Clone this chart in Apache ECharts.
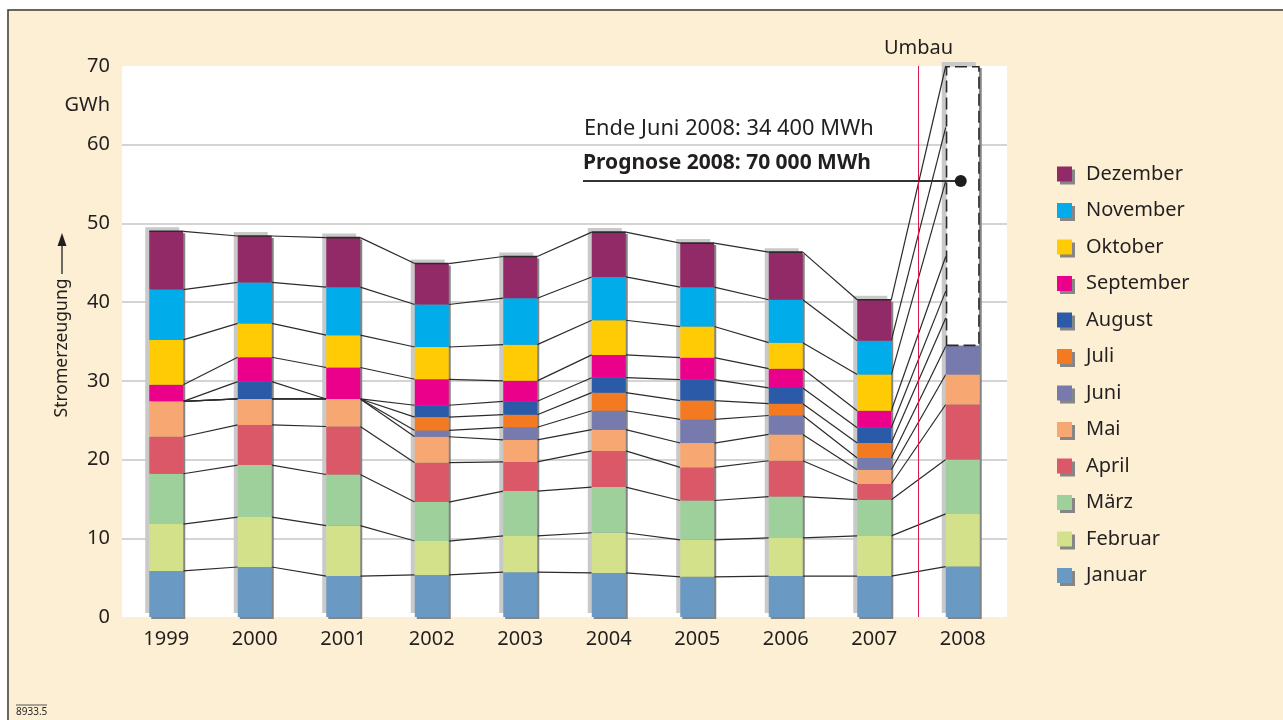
<!DOCTYPE html>
<html>
<head>
<meta charset="utf-8">
<script src="https://cdn.jsdelivr.net/npm/echarts@6/dist/echarts.min.js"></script>
<style>
  html, body { margin: 0; padding: 0; background: #fff; }
  #main { width: 1283px; height: 720px; }
</style>
</head>
<body>
<div id="main"></div>
<script>
// Stromerzeugung pro Monat in GWh, Jahre 1999-2008
const jahre = ['1999', '2000', '2001', '2002', '2003', '2004', '2005', '2006', '2007', '2008'];
const monate = ['Januar', 'Februar', 'März', 'April', 'Mai', 'Juni', 'Juli', 'August', 'September', 'Oktober', 'November', 'Dezember'];

const januar    = [5.85, 6.35, 5.2, 5.35, 5.7, 5.6, 5.1, 5.2, 5.2, 6.4];
const februar   = [5.95, 6.35, 6.4, 4.3, 4.6, 5.1, 4.7, 4.85, 5.1, 6.7];
const maerz     = [6.4, 6.6, 6.5, 4.95, 5.7, 5.8, 5.0, 5.25, 4.6, 6.9];
const april     = [4.7, 5.1, 6.1, 5.0, 3.7, 4.6, 4.2, 4.55, 2.0, 7.0];
const mai       = [4.5, 3.3, 3.5, 3.3, 2.8, 2.7, 3.1, 3.35, 1.8, 3.8];
const juni      = [0, 0, 0, 0.8, 1.6, 2.4, 3.0, 2.4, 1.5, 3.6];
const juli      = [0, 0, 0, 1.7, 1.6, 2.3, 2.4, 1.5, 1.9, 0];
const august    = [0, 2.2, 0, 1.5, 1.7, 1.9, 2.65, 2.0, 1.95, 0];
const september = [2.1, 3.1, 4.0, 3.3, 2.6, 2.9, 2.8, 2.45, 2.15, 0];
const oktober   = [5.7, 4.3, 4.1, 4.1, 4.6, 4.4, 3.95, 3.3, 4.6, 0];
const november  = [6.4, 5.2, 6.1, 5.4, 5.9, 5.5, 5.0, 5.45, 4.3, 0];
const dezember  = [7.4, 5.9, 6.3, 5.2, 5.3, 5.7, 5.6, 6.05, 5.2, 0];

// Prognose 2008 für Juli bis Dezember (Summe bis 70 GWh)
const prognose2008 = [3.6, 3.4, 4.4, 9.6, 6.8, 7.8];
const prognoseGesamt = 70;
const prognosePunkt = 55.4;

const farben = ['#6a9ac3', '#d3e18a', '#9ed09b', '#db5868', '#f7a872', '#767aad',
                '#f47a21', '#2b5aa8', '#eb008b', '#ffcb05', '#00adea', '#912a67'];

const monatsWerte = [januar, februar, maerz, april, mai, juni, juli, august, september, oktober, november, dezember];

const barW = 34;
const schrift = 'Noto Sans';
const textFarbe = '#231f20';

// kumulierte Obergrenzen je Jahr, für die Verbindungslinien
let kumuliert = jahre.map((j, i) => {
    let summe = 0;
    return monatsWerte.map((werte, m) => {
        let v = werte[i];
        if (i === jahre.length - 1 && m >= 6) {
            v = prognose2008[m - 6];
        }
        summe += v;
        return summe;
    });
});

let summen = jahre.map((j, i) => {
    let s = monatsWerte.reduce((a, werte) => a + werte[i], 0);
    return i === jahre.length - 1 ? prognoseGesamt : s;
});

let ist2008 = monatsWerte.reduce((a, werte) => a + werte[jahre.length - 1], 0);
let prognoseBalken = jahre.map((j, i) => i === jahre.length - 1 ? +(prognoseGesamt - ist2008).toFixed(2) : 0);

let chart = echarts.init(document.getElementById('main'));

let serien = [];

serien.push({
    type: 'custom',
    name: 'schatten',
    z: 1,
    clip: false,
    silent: true,
    data: summen.map((s, i) => [i, s]),
    renderItem: function (params, api) {
        let i = params.dataIndex;
        let oben = api.coord([i, summen[i]]);
        let unten = api.coord([i, 0]);
        let h = unten[1] - oben[1];
        return {
            type: 'group',
            children: [
                { type: 'rect', shape: { x: oben[0] - barW / 2 - 4, y: oben[1] - 4, width: barW, height: h }, style: { fill: '#c9c9c9' } },
                { type: 'rect', shape: { x: oben[0] - barW / 2 + 2, y: oben[1] + 2, width: barW, height: h }, style: { fill: '#858585' } }
            ]
        };
    }
});

serien.push({
    type: 'custom',
    name: 'linien',
    z: 1.5,
    clip: false,
    silent: true,
    data: jahre.slice(0, -1).map((j, i) => [i, 0]),
    renderItem: function (params, api) {
        let i = params.dataIndex;
        let kinder = kumuliert[i].map((wert, m) => {
            let a = api.coord([i, wert]);
            let b = api.coord([i + 1, kumuliert[i + 1][m]]);
            return {
                type: 'line',
                shape: { x1: a[0] + barW / 2, y1: a[1], x2: b[0] - barW / 2, y2: b[1] },
                style: { stroke: '#2b2b2b', lineWidth: 1.2 }
            };
        });
        return { type: 'group', children: kinder };
    }
});

monate.forEach((name, m) => {
    serien.push({
        type: 'bar',
        name: name,
        stack: 'summe',
        barWidth: barW,
        itemStyle: { color: farben[m] },
        emphasis: { disabled: true },
        data: monatsWerte[m]
    });
});

serien.push({
    type: 'bar',
    name: 'Prognose',
    stack: 'summe',
    barWidth: barW,
    itemStyle: { color: '#ffffff', borderColor: '#2b2b2b', borderWidth: 1.6, borderType: [12, 5] },
    data: prognoseBalken
});

let option = {
    backgroundColor: '#fdefd3',
    animation: false,
    textStyle: { fontFamily: schrift },
    grid: {
        left: 122, top: 66, width: 885, height: 551,
        show: true, backgroundColor: '#ffffff', borderWidth: 0
    },
    xAxis: {
        type: 'category',
        data: jahre,
        axisLine: { show: false },
        axisTick: { show: false },
        axisLabel: { fontSize: 20, color: textFarbe, margin: 12, fontFamily: schrift }
    },
    yAxis: {
        type: 'value',
        min: 0, max: 70, interval: 10,
        axisLine: { show: false },
        axisTick: { show: false },
        axisLabel: { fontSize: 20, color: textFarbe, margin: 12, fontFamily: schrift },
        splitLine: { showMinLine: false, showMaxLine: false, lineStyle: { color: '#c6c6c6', width: 1.5 } }
    },
    legend: {
        data: monate.slice().reverse(),
        orient: 'vertical',
        left: 1052,
        top: 159,
        itemWidth: 15,
        itemHeight: 15,
        itemGap: 16.5,
        icon: 'rect',
        selectedMode: false,
        itemStyle: { shadowColor: '#868686', shadowBlur: 0, shadowOffsetX: 3, shadowOffsetY: 3 },
        textStyle: { fontSize: 20, lineHeight: 20, color: textFarbe, fontFamily: schrift, padding: [0, 0, 0, 9] }
    },
    series: serien
};

chart.setOption(option);

// Beschriftungen und Markierungen, Positionen über die Achsen
let px = (i, v) => chart.convertToPixel({ gridIndex: 0 }, [i, v]);
let umbauX = (px(8, 0)[0] + px(9, 0)[0]) / 2;
let oben70 = px(0, 70)[1];
let nullY = px(0, 0)[1];
let punkt = px(9, prognosePunkt);
let gwhY = px(0, 65)[1];

chart.setOption({
    graphic: [
        // weißer Rand und Rahmen
        { type: 'rect', shape: { x: 0, y: 0, width: 1283, height: 9 }, style: { fill: '#fff' }, z: 100 },
        { type: 'rect', shape: { x: 0, y: 0, width: 7, height: 720 }, style: { fill: '#fff' }, z: 100 },
        { type: 'rect', shape: { x: 8, y: 10, width: 1300, height: 740 }, style: { fill: 'none', stroke: '#3a3a3a', lineWidth: 1.5 }, z: 100 },
        // Umbau
        { type: 'line', shape: { x1: umbauX, y1: oben70, x2: umbauX, y2: nullY }, style: { stroke: '#d81b4f', lineWidth: 1 }, z: 5 },
        { type: 'text', x: umbauX, y: 48, style: { text: 'Umbau', fontSize: 20, fontFamily: schrift, fill: textFarbe, align: 'center', verticalAlign: 'middle' }, z: 5 },
        // Einheit
        { type: 'text', x: 110, y: gwhY, style: { text: 'GWh', fontSize: 20, fontFamily: schrift, fill: textFarbe, align: 'right', verticalAlign: 'middle' }, z: 5 },
        // Achsentitel mit Pfeil
        { type: 'text', x: 62, y: 348, rotation: Math.PI / 2, style: { text: 'Stromerzeugung', fontSize: 17.5, fontFamily: schrift, fill: textFarbe, align: 'center', verticalAlign: 'middle' }, z: 5 },
        { type: 'line', shape: { x1: 62, y1: 274, x2: 62, y2: 243 }, style: { stroke: '#231f20', lineWidth: 1.3 }, z: 5 },
        { type: 'polygon', shape: { points: [[62, 233], [57.5, 246], [66.5, 246]] }, style: { fill: '#231f20' }, z: 5 },
        // Anmerkungen 2008
        { type: 'text', x: 584, y: 129, style: { text: 'Ende Juni 2008: 34 400 MWh', fontSize: 21.8, fontFamily: schrift, fill: textFarbe, align: 'left', verticalAlign: 'middle' }, z: 5 },
        { type: 'text', x: 583, y: 163, style: { text: 'Prognose 2008: 70 000 MWh', fontSize: 21, fontWeight: 'bold', fontFamily: schrift, fill: textFarbe, align: 'left', verticalAlign: 'middle' }, z: 5 },
        { type: 'line', shape: { x1: 583, y1: punkt[1], x2: punkt[0] - 2, y2: punkt[1] }, style: { stroke: '#333', lineWidth: 2 }, z: 5 },
        { type: 'circle', shape: { cx: punkt[0] - 2, cy: punkt[1], r: 6 }, style: { fill: '#1d1d1d' }, z: 5 },
        // Kennziffer
        { type: 'line', shape: { x1: 16, y1: 705, x2: 47, y2: 705 }, style: { stroke: '#555', lineWidth: 1 }, z: 5 },
        { type: 'text', x: 16, y: 712, style: { text: '8933.5', fontSize: 10, fontFamily: schrift, fill: textFarbe, align: 'left', verticalAlign: 'middle' }, z: 5 }
    ]
});
</script>
</body>
</html>
